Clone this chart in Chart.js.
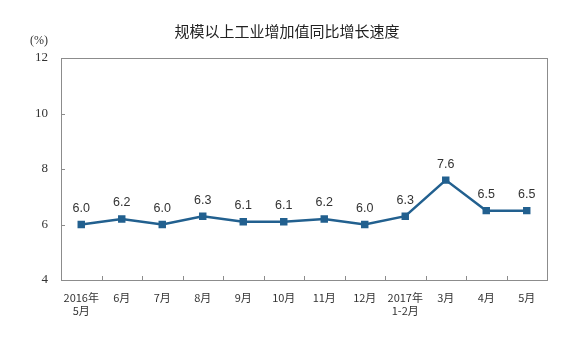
<!DOCTYPE html>
<html>
<head>
<meta charset="utf-8">
<script src="https://cdn.jsdelivr.net/npm/chart.js@4/dist/chart.umd.min.js"></script>
<style>
  html, body { margin: 0; padding: 0; background: #fff; }
  #wrap { width: 569px; height: 339px; position: relative; }
</style>
</head>
<body>
<div id="wrap"><canvas id="c"></canvas></div>
<script>
// ── Data ──────────────────────────────────────────────────────────────────────
const MONTHS = [
  ["2016年", "5月"], "6月", "7月", "8月", "9月", "10月", "11月", "12月",
  ["2017年", "1-2月"], "3月", "4月", "5月"
];
const GROWTH = [6.0, 6.2, 6.0, 6.3, 6.1, 6.1, 6.2, 6.0, 6.3, 7.6, 6.5, 6.5];
const Y_TICKS = [4, 6, 8, 10, 12];

const TITLE = "规模以上工业增加值同比增长速度";
const UNIT  = "(%)";

const LINE_COLOR = "#22608f";
const AXIS_COLOR = "#8c8c8c";

// ── Frame, inward tick marks, title and value labels ─────────────────────────
const decorations = {
  id: "decorations",
  afterDatasetsDraw(chart) {
    const { ctx, chartArea: a, scales: { x, y } } = chart;
    ctx.save();

    // plot frame
    ctx.strokeStyle = AXIS_COLOR;
    ctx.lineWidth = 1;
    ctx.strokeRect(Math.round(a.left) + 0.5, Math.round(a.top) + 0.5,
                   Math.round(a.right - a.left), Math.round(a.bottom - a.top));

    // x tick marks between categories, pointing inward
    ctx.beginPath();
    const step = (a.right - a.left) / MONTHS.length;
    for (let i = 1; i < MONTHS.length; i++) {
      const px = Math.round(x.getPixelForValue(i) - step / 2) + 0.5;
      ctx.moveTo(px, Math.round(a.bottom));
      ctx.lineTo(px, Math.round(a.bottom) - 4);
    }
    // y tick marks, pointing inward
    Y_TICKS.slice(1, -1).forEach(v => {
      const py = Math.round(y.getPixelForValue(v)) + 0.5;
      ctx.moveTo(Math.round(a.left), py);
      ctx.lineTo(Math.round(a.left) + 4, py);
    });
    ctx.stroke();

    // value labels
    const meta = chart.getDatasetMeta(0);
    ctx.fillStyle = "#333";
    ctx.font = "12.5px 'Liberation Sans', Arial, sans-serif";
    ctx.textAlign = "center";
    ctx.textBaseline = "middle";
    meta.data.forEach((pt, i) => {
      ctx.fillText(GROWTH[i].toFixed(1), pt.x, pt.y - 16);
    });

    // title and unit
    ctx.fillStyle = "#222";
    ctx.font = "15px 'Noto Sans CJK SC', sans-serif";
    ctx.fillText(TITLE, 287, 31);
    ctx.font = "12px 'Liberation Serif', serif";
    ctx.fillStyle = "#333";
    ctx.fillText(UNIT, 39, 41);
    ctx.restore();
  }
};

new Chart(document.getElementById("c"), {
  type: "line",
  data: {
    labels: MONTHS,
    datasets: [{
      data: GROWTH,
      borderColor: LINE_COLOR,
      backgroundColor: LINE_COLOR,
      borderWidth: 2.5,
      pointStyle: "rect",
      pointRadius: 3.5,
      pointHoverRadius: 3.5,
      tension: 0,
    }],
  },
  options: {
    responsive: true,
    maintainAspectRatio: false,
    animation: false,
    layout: { padding: { top: 58, right: 22, left: 0, bottom: 0 } },
    plugins: { legend: { display: false }, tooltip: { enabled: false } },
    scales: {
      x: {
        offset: true,
        grid: { display: false, drawTicks: false },
        border: { display: false },
        ticks: {
          color: "#333",
          font: { family: "'Noto Sans CJK SC', sans-serif", size: 11 },
          padding: 11,
          maxRotation: 0,
          autoSkip: false,
        },
        afterFit: s => { s.height = 59; },
      },
      y: {
        min: 4,
        max: 12,
        afterBuildTicks: s => { s.ticks = Y_TICKS.map(v => ({ value: v })); },
        grid: { display: false, drawTicks: false },
        border: { display: false },
        ticks: {
          color: "#333",
          font: { family: "'Liberation Serif', serif", size: 13 },
          padding: 13,
        },
        afterFit: s => { s.width = 61; },
      },
    },
  },
  plugins: [decorations],
});
</script>
</body>
</html>
